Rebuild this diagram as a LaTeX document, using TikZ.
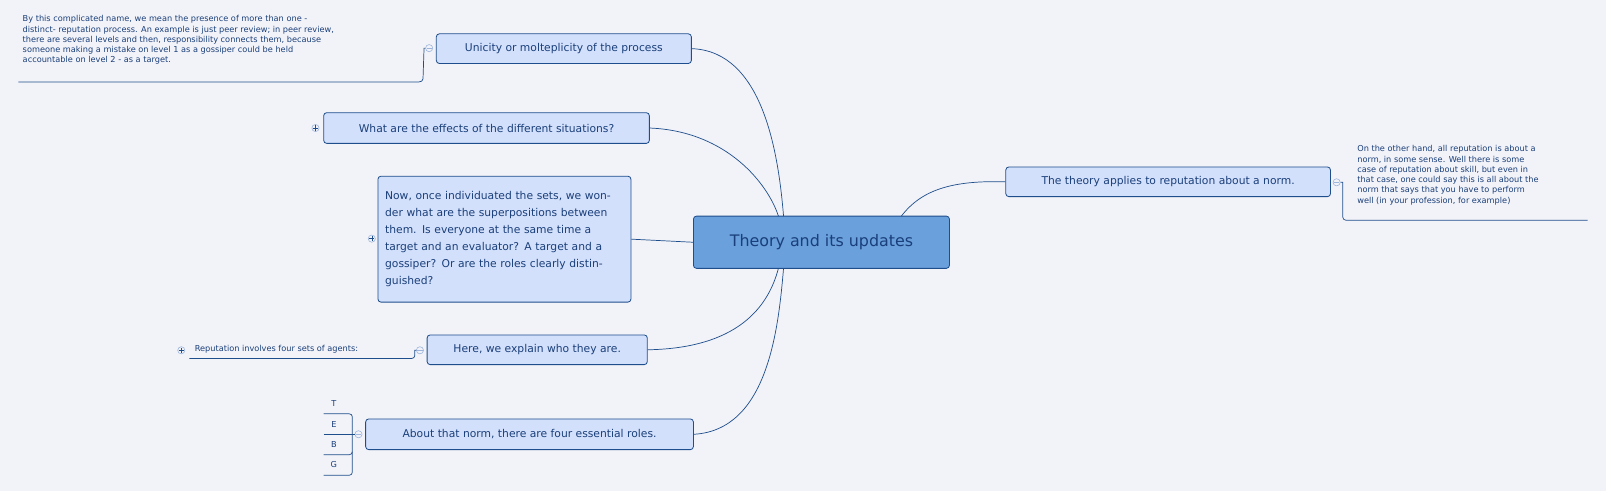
\documentclass[tikz,border=0pt]{standalone}
\usepackage{fontspec}
\setmainfont{DejaVu Sans}
\definecolor{bg}{HTML}{F2F3F8}
\definecolor{nfill}{HTML}{D3E0FB}
\definecolor{ndraw}{HTML}{1F4E8C}
\definecolor{ntext}{HTML}{1A3F7A}
\definecolor{cfill}{HTML}{6AA0DC}
\definecolor{exp}{HTML}{9DB5DD}
\begin{document}
\begin{tikzpicture}[x=1pt,y=-1pt,
  box/.style={draw=ndraw,fill=nfill,rounded corners=3pt,text=ntext,font=\fontsize{10.5}{13.5}\selectfont,inner sep=0pt,line width=0.8pt},
  conn/.style={draw=ndraw,line width=0.7pt},
  note/.style={text=ntext,font=\fontsize{8}{10}\selectfont,align=left,inner sep=0pt,anchor=north west},
  expm/.style={circle,draw=exp,fill=bg,minimum size=7pt,inner sep=0pt,line width=0.6pt},
]
\fill[bg] (0,0) rectangle (1568,479);
\useasboundingbox (0,0) rectangle (1568,479);
% central
\node[box,fill=cfill,minimum width=250,minimum height=51,font=\fontsize{15.5}{18}\selectfont] (c) at (802,236.5) {Theory and its updates};
% nodes
\node[box,minimum width=249,minimum height=29] (u) at (550.5,47.5) {Unicity or molteplicity of the process};
\node[box,minimum width=318,minimum height=30] (e) at (475,125) {What are the effects of the different situations?};
\node[box,minimum width=247,minimum height=123,align=left,text width=233,font=\fontsize{10.5}{16.5}\selectfont] (n) at (492.5,233.5) {Now, once individuated the sets, we wonder what are the superpositions between them. Is everyone at the same time a target and an evaluator? A target and a gossiper? Or are the roles clearly distinguished?};
\node[box,minimum width=215,minimum height=29] (h) at (524.5,341.5) {Here, we explain who they are.};
\node[box,minimum width=320,minimum height=30] (a) at (517,424) {About that norm, there are four essential roles.};
\node[box,minimum width=317,minimum height=29] (t) at (1140.5,177.5) {The theory applies to reputation about a norm.};
% connectors
\draw[conn] (u.east) .. controls (745,50) and (760,150) .. (765,211);
\draw[conn] (e.east) .. controls (710,128) and (750,180) .. (760,211);
\draw[conn] (n.east) -- (c.west);
\draw[conn] (h.east) .. controls (720,340) and (750,300) .. (760,262);
\draw[conn] (a.east) .. controls (750,420) and (760,320) .. (765,262);
\draw[conn] (t.west) .. controls (930,176) and (900,185) .. (880,211);
% expanders
\node[expm] (eu) at (419,47) {}; \draw[exp,line width=0.6pt] (416.5,47)--(421.5,47);
\node[expm] (ee) at (308,125) {}; \draw[ndraw,line width=0.5pt] (305.5,125)--(310.5,125) (308,122.5)--(308,127.5);
\node[expm] (en) at (363,233) {}; \draw[ndraw,line width=0.5pt] (360.5,233)--(365.5,233) (363,230.5)--(363,235.5);
\node[expm] (eh) at (410,342) {}; \draw[exp,line width=0.6pt] (407.5,342)--(412.5,342);
\node[expm] (ea) at (350,424) {}; \draw[exp,line width=0.6pt] (347.5,424)--(352.5,424);
\node[expm] (et) at (1305,178) {}; \draw[exp,line width=0.6pt] (1302.5,178)--(1307.5,178);
\node[expm] (er) at (177,342) {}; \draw[ndraw,line width=0.5pt] (174.5,342)--(179.5,342) (177,339.5)--(177,344.5);
% unicity note
\node[note] (un) at (22,15) {By this complicated name, we mean the presence of more than one -\\distinct- reputation process. An example is just peer review; in peer review,\\there are several levels and then, responsibility connects them, because\\someone making a mistake on level 1 as a gossiper could be held\\accountable on level 2 - as a target.};
\coordinate (unl) at (18,80);
\draw[conn] (eu.west) -- (414,47) -- (413,77) to[out=-90,in=0] (409,80) -- (unl);
% theory note
\node[note] (tn) at (1325,142) {On the other hand, all reputation is about a\\norm, in some sense. Well there is some\\case of reputation about skill, but even in\\that case, one could say this is all about the\\norm that says that you have to perform\\well (in your profession, for example)};
\coordinate (tnl) at (1550,215);
\draw[conn] (et.east) -- (1311,178) -- (1311,212) to[out=-90,in=180] (1314,215) -- (tnl);
% reputation note
\node[note,anchor=west] (rn) at (190,341) {Reputation involves four sets of agents:};
\coordinate (rnl) at (185,350);
\draw[conn] (eh.west) -- (405,342) -- (405,347) to[out=-90,in=0] (402,350) -- (rnl);
% TEBG
\node[note,anchor=center] (lt) at (326,394) {T};
\node[note,anchor=center] (le) at (326,414) {E};
\node[note,anchor=center] (lb) at (326,434) {B};
\node[note,anchor=center] (lg) at (326,454) {G};
\draw[conn] (316,404) -- (341,404) to[out=0,in=90] (344,407) -- (344,461) to[out=-90,in=0] (341,464) -- (316,464);
\draw[conn] (316,424) -- (ea.west);
\draw[conn] (316,444) -- (341,444) to[out=0,in=-90] (344,441);
\end{tikzpicture}
\end{document}
